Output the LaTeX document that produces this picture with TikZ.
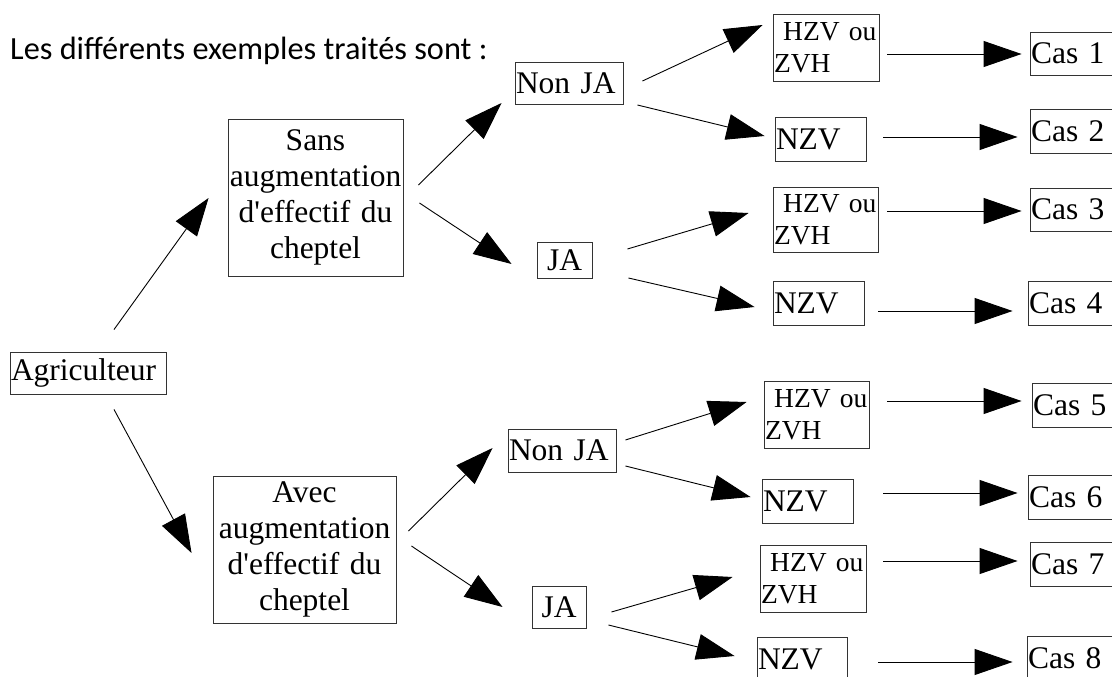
\documentclass[tikz,border=0pt]{standalone}
\usepackage{fontspec}
\setmainfont{Liberation Serif}
\newfontfamily\titlefont{Carlito}
\usetikzlibrary{arrows.meta}
\newcommand{\boxfont}{\fontsize{31.5}{36.2}\selectfont}
\newcommand{\smallboxfont}{\fontsize{27.5}{31.6}\selectfont}
\begin{document}
\begin{tikzpicture}[x=1pt,y=-1pt,
  box/.style={draw=black!80, line width=0.9pt, inner xsep=1pt, inner ysep=0pt,
    font=\boxfont, align=left},
  mid/.style={box, align=center},
  two/.style={box, font=\smallboxfont},
  arr/.style={draw=black, line width=0.9pt, -{Triangle[length=38pt,width=26pt]}}]

% page area
\useasboundingbox (0,0) rectangle (1112,677);
\fill[white] (0,0) rectangle (1112,677);
\clip (0,0) rectangle (1112,677);

% heading
\node[anchor=base west, inner sep=0pt, font=\titlefont\fontsize{32.3}{37}\selectfont]
  (title) at (10,60) {Les différents exemples traités sont :};

% root and first level
\node[box, text width=154pt, minimum height=42pt] (agri) at (88,373) {Agriculteur};
\node[mid, text width=173pt, minimum height=157pt] (sans) at (315.5,197.5)
  {Sans\\augmentation\\d\textquotesingle effectif du\\cheptel};
\node[mid, text width=181pt, minimum height=147pt] (avec) at (304.5,549.5)
  {Avec\\augmentation\\d\textquotesingle effectif du\\cheptel};

% second level
\node[box, text width=106pt, minimum height=42pt] (nonja1) at (569,83) {Non JA};
\node[mid, text width=53pt, minimum height=36pt] (ja1) at (564.5,260) {JA};
\node[box, text width=106pt, minimum height=43pt] (nonja2) at (562,450.5) {Non JA};
\node[mid, text width=52pt, minimum height=42pt] (ja2) at (559,607) {JA};

% zones
\node[two, text width=104pt, minimum height=67pt] (hzv1) at (826,47.5) {~HZV ou\\ZVH};
\node[box, text width=89pt, minimum height=44pt] (nzv2) at (820.5,139) {NZV};
\node[two, text width=103pt, minimum height=65pt] (hzv3) at (825.5,219.5) {~HZV ou\\ZVH};
\node[box, text width=89pt, minimum height=44pt] (nzv4) at (818.5,303) {NZV};
\node[two, text width=103pt, minimum height=67pt] (hzv5) at (816.5,414.5) {~HZV ou\\ZVH};
\node[box, text width=89pt, minimum height=44pt] (nzv6) at (807.5,501) {NZV};
\node[two, text width=104pt, minimum height=67pt] (hzv7) at (813,578.5) {~HZV ou\\ZVH};
\node[box, text width=88pt, minimum height=44pt] (nzv8) at (802,659) {NZV};

% cases
\node[box, text width=98pt, minimum height=43pt] (cas1) at (1080,53.5) {Cas 1};
\node[box, text width=98pt, minimum height=44pt] (cas2) at (1080,131) {Cas 2};
\node[box, text width=98pt, minimum height=43pt] (cas3) at (1080,209.5) {Cas 3};
\node[box, text width=98pt, minimum height=44pt] (cas4) at (1078,303) {Cas 4};
\node[box, text width=98pt, minimum height=44pt] (cas5) at (1082,405) {Cas 5};
\node[box, text width=98pt, minimum height=44pt] (cas6) at (1078,497) {Cas 6};
\node[box, text width=98pt, minimum height=44pt] (cas7) at (1080,564) {Cas 7};
\node[box, text width=98pt, minimum height=44pt] (cas8) at (1077,658) {Cas 8};

% connectors
\draw[arr] ([shift={(26,-22)}]agri.north) -- ([shift={(-19,0.5)}]sans.west);
\draw[arr] ([shift={(26,15)}]agri.south) -- ([shift={(-21,3.5)}]avec.west);

\draw[arr] ([shift={(15,-12.5)}]sans.east) -- ([shift={(-13,20)}]nonja1.west);
\draw[arr] ([shift={(16,5.5)}]sans.east) -- ([shift={(-25,4)}]ja1.west);
\draw[arr] ([shift={(12,-18.5)}]avec.east) -- ([shift={(-15,-2.5)}]nonja2.west);
\draw[arr] ([shift={(15,-3.5)}]avec.east) -- ([shift={(-29,0)}]ja2.west);

\draw[arr] ([shift={(19,-2)}]nonja1.east) -- ([shift={(-10,-22.5)}]hzv1.west);
\draw[arr] ([shift={(14,22)}]nonja1.east) -- ([shift={(-10,-3)}]nzv2.west);
\draw[arr] ([shift={(35,-11)}]ja1.east) -- ([shift={(-24,-6.5)}]hzv3.west);
\draw[arr] ([shift={(36,18)}]ja1.east) -- ([shift={(-18,4)}]nzv4.west);
\draw[arr] ([shift={(9,-10.5)}]nonja2.east) -- ([shift={(-17,-12.5)}]hzv5.west);
\draw[arr] ([shift={(9,15.5)}]nonja2.east) -- ([shift={(-11,-4)}]nzv6.west);
\draw[arr] ([shift={(25,5)}]ja2.east) -- ([shift={(-27,-1.5)}]hzv7.west);
\draw[arr] ([shift={(22,18)}]ja2.east) -- ([shift={(-22,-3)}]nzv8.west);

\draw[arr] ([shift={(8,6.5)}]hzv1.east) -- ([shift={(-8,0.5)}]cas1.west);
\draw[arr] ([shift={(17,-2)}]nzv2.east) -- ([shift={(-12,6)}]cas2.west);
\draw[arr] ([shift={(9,-8.5)}]hzv3.east) -- ([shift={(-8,1.5)}]cas3.west);
\draw[arr] ([shift={(14,8)}]nzv4.east) -- ([shift={(-15,8)}]cas4.west);
\draw[arr] ([shift={(18,-13.5)}]hzv5.east) -- ([shift={(-10,-4)}]cas5.west);
\draw[arr] ([shift={(30,-8)}]nzv6.east) -- ([shift={(-10,-4)}]cas6.west);
\draw[arr] ([shift={(17,-17.5)}]hzv7.east) -- ([shift={(-12,-3)}]cas7.west);
\draw[arr] ([shift={(31,3)}]nzv8.east) -- ([shift={(-14,4)}]cas8.west);
\end{tikzpicture}
\end{document}
